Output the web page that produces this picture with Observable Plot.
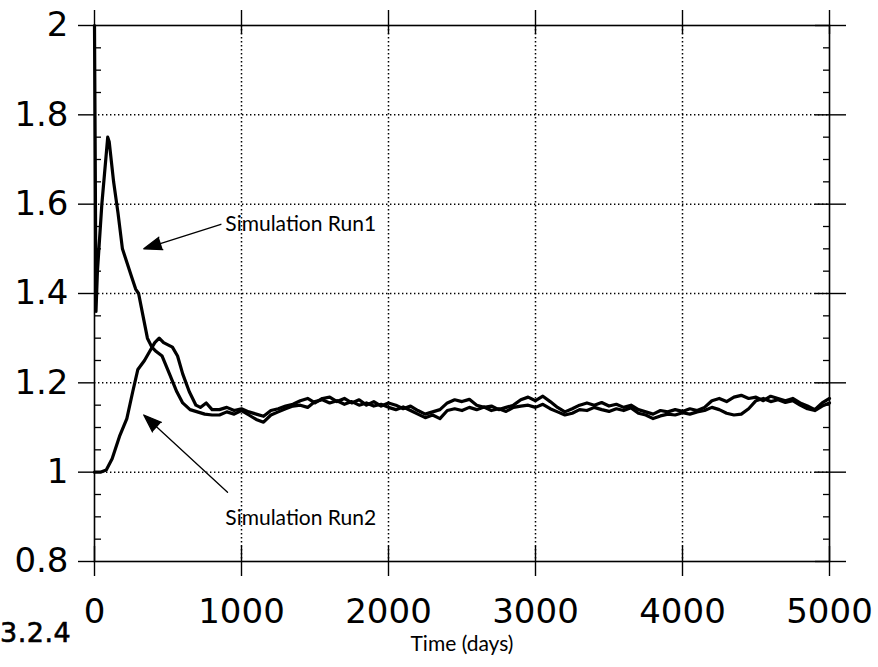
<!DOCTYPE html>
<html><head><meta charset="utf-8">
<script src="https://cdn.jsdelivr.net/npm/d3@7"></script>
<script src="https://cdn.jsdelivr.net/npm/@observablehq/plot@0.6"></script>
<style>
body{margin:0;background:#fff;}
#wrap{position:relative;width:878px;height:667px;overflow:hidden;background:#fff;}
#fig{position:absolute;left:0px;top:617px;font:27px "DejaVu Sans";letter-spacing:0.5px;-webkit-text-stroke:0.6px black;}
</style></head><body><div id="wrap"><div id="fig">3.2.4</div></div>
<script>
// ---- data ----
const xTicks = [0, 1000, 2000, 3000, 4000, 5000];
const yTicks = [0.8, 1, 1.2, 1.4, 1.6, 1.8, 2];
const xGrid = [1000, 2000, 3000, 4000];
const yGrid = [1, 1.2, 1.4, 1.6, 1.8];
const yMinor = [0.85, 0.9, 0.95, 1.05, 1.1, 1.15, 1.25, 1.3, 1.35, 1.45, 1.5, 1.55, 1.65, 1.7, 1.75, 1.85, 1.9, 1.95];

const run1T = [0, 5, 10, 20, 50, 90, 100, 130, 160, 190, 220, 250, 280, 300, 330, 360, 390, 420, 460, 510, 560, 600, 650, 700, 750, 800,
  850, 900, 950, 1000, 1050, 1100, 1150, 1200, 1250, 1300, 1350, 1400, 1450, 1500, 1550, 1600, 1650, 1700, 1750, 1800, 1850, 1900, 1950,
  2000, 2050, 2100, 2150, 2200, 2250, 2300, 2350, 2400, 2450, 2500, 2550, 2600, 2650, 2700, 2750, 2800, 2850, 2900, 2950,
  3000, 3050, 3100, 3150, 3200, 3250, 3300, 3350, 3400, 3450, 3500, 3550, 3600, 3650, 3700, 3750, 3800, 3850, 3900, 3950,
  4000, 4050, 4100, 4150, 4200, 4250, 4300, 4350, 4400, 4450, 4500, 4550, 4600, 4650, 4700, 4750, 4800, 4850, 4900, 4950, 5000];
const run1V = [2.00, 1.70, 1.36, 1.45, 1.60, 1.75, 1.74, 1.65, 1.58, 1.50, 1.47, 1.44, 1.41, 1.40, 1.35, 1.30, 1.28, 1.27, 1.26, 1.22, 1.18, 1.155, 1.14, 1.135, 1.13, 1.128,
  1.128, 1.135, 1.130, 1.138, 1.128, 1.118, 1.112, 1.128, 1.135, 1.142, 1.148, 1.150, 1.145, 1.158, 1.162, 1.155, 1.160, 1.152, 1.158, 1.150, 1.155, 1.148, 1.152,
  1.145, 1.140, 1.146, 1.138, 1.130, 1.122, 1.128, 1.120, 1.138, 1.142, 1.138, 1.145, 1.140, 1.146, 1.138, 1.142, 1.136, 1.145, 1.148, 1.150,
  1.145, 1.152, 1.142, 1.135, 1.128, 1.132, 1.140, 1.138, 1.145, 1.140, 1.136, 1.142, 1.138, 1.144, 1.132, 1.128, 1.120, 1.126, 1.130, 1.128,
  1.133, 1.130, 1.135, 1.138, 1.145, 1.140, 1.132, 1.128, 1.130, 1.142, 1.160, 1.165, 1.158, 1.162, 1.156, 1.160, 1.150, 1.142, 1.138, 1.148, 1.155];

const run2T = [0, 40, 80, 120, 170, 220, 260, 295, 340, 375, 410, 440, 470, 500, 530, 565, 600, 645, 690, 720, 760, 800,
  850, 900, 950, 1000, 1050, 1100, 1150, 1200, 1250, 1300, 1350, 1400, 1450, 1500, 1550, 1600, 1650, 1700, 1750, 1800, 1850, 1900, 1950,
  2000, 2050, 2100, 2150, 2200, 2250, 2300, 2350, 2400, 2450, 2500, 2550, 2600, 2650, 2700, 2750, 2800, 2850, 2900, 2950,
  3000, 3050, 3100, 3150, 3200, 3250, 3300, 3350, 3400, 3450, 3500, 3550, 3600, 3650, 3700, 3750, 3800, 3850, 3900, 3950,
  4000, 4050, 4100, 4150, 4200, 4250, 4300, 4350, 4400, 4450, 4500, 4550, 4600, 4650, 4700, 4750, 4800, 4850, 4900, 4950, 5000];
const run2V = [1.00, 1.00, 1.005, 1.03, 1.08, 1.12, 1.18, 1.23, 1.25, 1.27, 1.29, 1.30, 1.29, 1.285, 1.28, 1.26, 1.22, 1.18, 1.15, 1.145, 1.155, 1.14,
  1.140, 1.145, 1.138, 1.142, 1.135, 1.130, 1.125, 1.138, 1.142, 1.148, 1.152, 1.160, 1.165, 1.155, 1.165, 1.168, 1.158, 1.165, 1.155, 1.162, 1.150, 1.158, 1.148,
  1.155, 1.150, 1.142, 1.148, 1.138, 1.130, 1.135, 1.140, 1.155, 1.162, 1.158, 1.163, 1.150, 1.145, 1.148, 1.140, 1.145, 1.150, 1.162, 1.168,
  1.160, 1.170, 1.158, 1.145, 1.135, 1.142, 1.150, 1.155, 1.150, 1.156, 1.148, 1.152, 1.145, 1.150, 1.140, 1.135, 1.130, 1.138, 1.135, 1.140,
  1.136, 1.142, 1.138, 1.145, 1.160, 1.165, 1.158, 1.168, 1.172, 1.165, 1.168, 1.160, 1.170, 1.165, 1.160, 1.165, 1.155, 1.148, 1.140, 1.155, 1.165];

const annLabels = ["Simulation Run1", "Simulation Run2"];
const annTextT = [890, 890];
const annTextY = [1.555, 0.897];
const annFromT = [860, 905];
const annFromY = [1.555, 0.955];
const annTipT = [335, 335];
const annTipY = [1.500, 1.128];

const xTitle = "Time (days)";

// ---- tables ----
const series = [
  ...run1T.map((t, i) => ({t, v: run1V[i], run: "Run1"})),
  ...run2T.map((t, i) => ({t, v: run2V[i], run: "Run2"}))
];
const ann = annLabels.map((label, i) => ({label, tx: annTextT[i], ty: annTextY[i], x1: annFromT[i], y1: annFromY[i], x2: annTipT[i], y2: annTipY[i]}));

const dotted = {stroke: "black", strokeOpacity: 1, strokeWidth: 1.5, strokeDasharray: "1.4,2.6"};
const noText = () => "";

const chart = Plot.plot({
  width: 878, height: 667,
  marginLeft: 94, marginRight: 49, marginTop: 25, marginBottom: 106,
  x: {domain: [0, 5000]},
  y: {domain: [0.8, 2]},
  style: {fontFamily: "DejaVu Sans", color: "black", background: "white"},
  marks: [
    Plot.gridX(xGrid, dotted),
    Plot.gridY(yGrid, dotted),
    Plot.frame({stroke: "black", strokeWidth: 1.6}),
    Plot.axisX(xTicks, {anchor: "bottom", tickSize: 15, tickPadding: 22, fontSize: 34, label: null, tickFormat: d => String(d), strokeWidth: 1.4}),
    Plot.axisX(xTicks, {anchor: "bottom", tickSize: -15, tickFormat: noText, label: null, strokeWidth: 1.4}),
    Plot.axisX(xTicks, {anchor: "top", tickSize: 16, tickFormat: noText, label: null, strokeWidth: 1.4}),
    Plot.axisX(xTicks, {anchor: "top", tickSize: -8, tickFormat: noText, label: null, strokeWidth: 1.4}),
    Plot.axisY(yTicks, {anchor: "left", tickSize: 16, tickPadding: 10, fontSize: 34, label: null, tickFormat: d => String(d), strokeWidth: 1.4}),
    Plot.axisY(yMinor, {anchor: "left", tickSize: -7, tickFormat: noText, label: null, strokeWidth: 1.3}),
    Plot.axisY(yTicks, {anchor: "right", tickSize: 16, tickFormat: noText, label: null, strokeWidth: 1.4}),
    Plot.axisY(yTicks, {anchor: "right", tickSize: -15, tickFormat: noText, label: null, strokeWidth: 1.4}),
    Plot.axisY(yMinor, {anchor: "right", tickSize: -7, tickFormat: noText, label: null, strokeWidth: 1.3}),
    Plot.line(series, {x: "t", y: "v", z: "run", stroke: "black", strokeWidth: 3.2, strokeLinejoin: "round"}),
    Plot.arrow(ann, {x1: "x1", y1: "y1", x2: "x2", y2: "y2", stroke: "black", fill: "black", strokeWidth: 1.3, headLength: 22, headAngle: 40}),
    Plot.text(ann, {x: "tx", y: "ty", text: "label", textAnchor: "start", fontSize: 21, fontFamily: "Lato"}),
    Plot.text([xTitle], {x: () => 2500, frameAnchor: "bottom", dy: 89, fontSize: 21, fontFamily: "Lato"})
  ]
});
document.getElementById("wrap").prepend(chart);
</script>
</body></html>
